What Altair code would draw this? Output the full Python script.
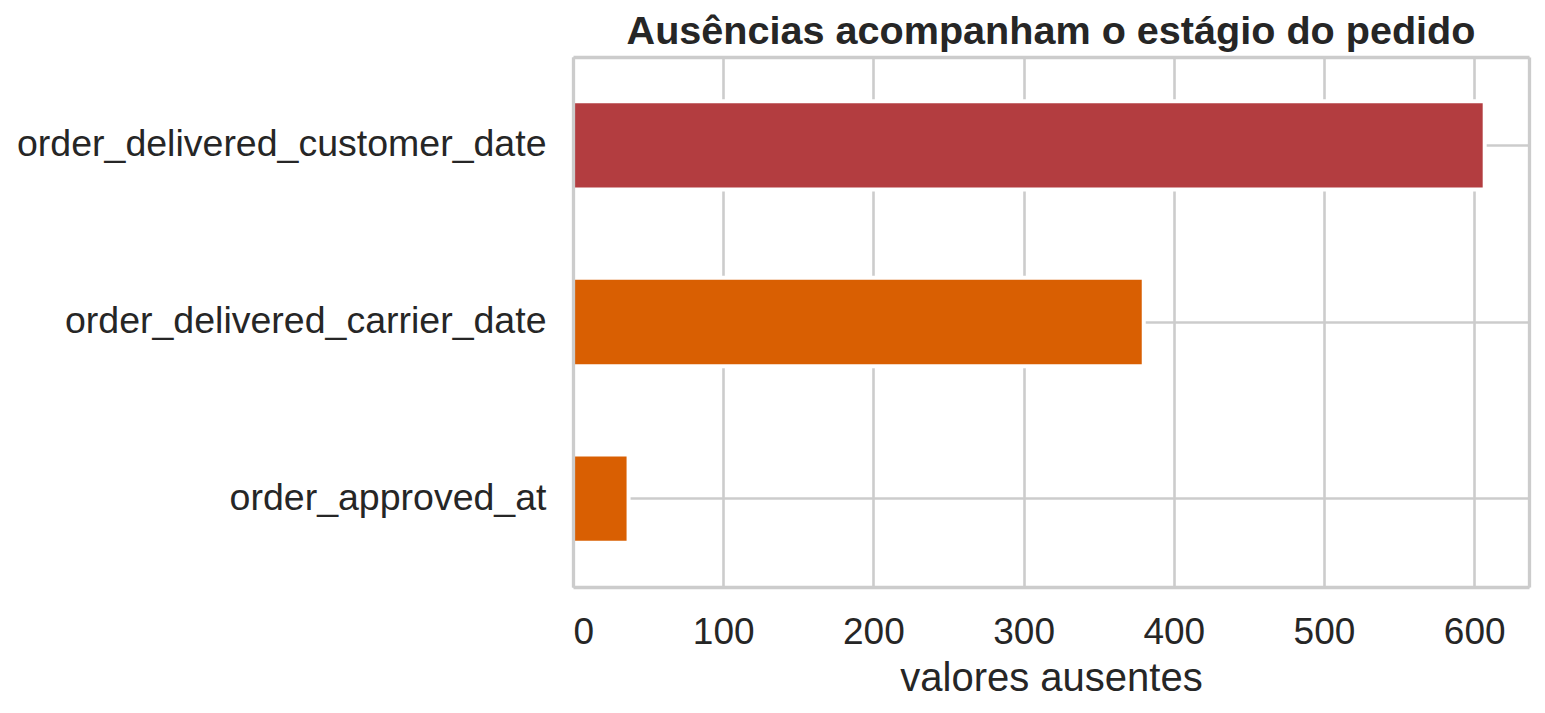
import altair as alt
import pandas as pd

colunas = ["order_delivered_customer_date", "order_delivered_carrier_date", "order_approved_at"]
ausentes = [607, 380, 37]
cores = ["#b33d40", "#d95f02", "#d95f02"]

df = pd.DataFrame({"coluna": colunas, "ausentes": ausentes, "cor": cores})

FONT = "Liberation Sans"
TXT = "#262626"
GRID = "#cccccc"

xscale = alt.Scale(domain=[0, 636.5], nice=False, zero=True)
yscale = alt.Scale(paddingInner=0.5, paddingOuter=0.25)

base = alt.Chart(df)

bars = base.mark_bar(stroke="white", strokeWidth=4).encode(
    x=alt.X("ausentes:Q", scale=xscale,
            axis=alt.Axis(title="valores ausentes", values=[0, 100, 200, 300, 400, 500, 600],
                          format="d", ticks=False, tickSize=0, domain=False,
                          labelFontSize=37, labelPadding=27, labelColor=TXT, labelFont=FONT,
                          titleFontSize=40, titleFont=FONT, titleColor=TXT, titleFontWeight="normal",
                          titleBaseline="alphabetic", titleY=103,
                          grid=True, gridColor=GRID, gridWidth=2.6)),
    y=alt.Y("coluna:N", sort=None, scale=yscale,
            axis=alt.Axis(title=None, ticks=False, tickSize=0, domain=False,
                          labelFontSize=37.5, labelPadding=27, labelColor=TXT, labelFont=FONT,
                          labelLimit=1000, bandPosition=0.5,
                          grid=True, gridColor=GRID, gridWidth=2.6)),
    color=alt.Color("cor:N", scale=None, legend=None),
)


def frame_layer(xorient, yorient):
    return base.mark_bar(opacity=0).encode(
        x=alt.X("ausentes:Q", scale=xscale,
                axis=alt.Axis(orient=xorient, title=None, labels=False, ticks=False, tickSize=0,
                              grid=False, domain=True, domainColor=GRID, domainWidth=3.3,
                              zindex=1)),
        y=alt.Y("coluna:N", sort=None, scale=yscale,
                axis=alt.Axis(orient=yorient, title=None, labels=False, ticks=False, tickSize=0,
                              grid=False, domain=True, domainColor=GRID, domainWidth=3.3,
                              zindex=1)),
    )


chart = alt.layer(
    bars, frame_layer("bottom", "left"), frame_layer("top", "right")
).resolve_axis(x="independent", y="independent").properties(
    width=956,
    height=530,
    title=alt.TitleParams("Ausências acompanham o estágio do pedido", font=FONT, fontSize=39.6,
                          fontWeight="bold", color=TXT, anchor="middle",
                          baseline="alphabetic", offset=14, dy=41),
    autosize=alt.AutoSizeParams(type="none"),
    padding={"left": 565, "top": 49, "right": 8, "bottom": 120},
).configure_view(
    stroke=GRID, strokeWidth=3.3
).configure(background="white")

chart.save("out.html", embed_options={"renderer": "svg", "actions": False})
